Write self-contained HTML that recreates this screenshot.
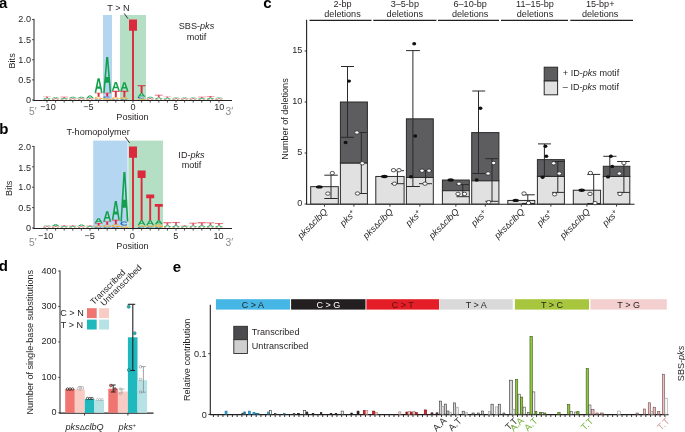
<!DOCTYPE html>
<html><head><meta charset="utf-8"><style>
html,body{margin:0;padding:0;background:#fff;width:685px;height:432px;overflow:hidden;}
svg{display:block;will-change:transform;}
text{font-family:"Liberation Sans", sans-serif;}
</style></head><body>
<svg width="685" height="432" viewBox="0 0 685 432" font-family='"Liberation Sans", sans-serif'>
<defs><path id="LC" d="M0.883,0.179 L0.810,0.108 L0.724,0.053 L0.629,0.017 L0.529,0.001 L0.428,0.005 L0.329,0.030 L0.238,0.074 L0.157,0.136 L0.090,0.213 L0.041,0.302 L0.010,0.399 L0.000,0.500 L0.010,0.601 L0.041,0.698 L0.090,0.787 L0.157,0.864 L0.238,0.926 L0.329,0.970 L0.428,0.995 L0.529,0.999 L0.629,0.983 L0.724,0.947 L0.810,0.892 L0.883,0.821 L0.730,0.693 L0.686,0.735 L0.635,0.768 L0.578,0.790 L0.517,0.799 L0.457,0.797 L0.397,0.782 L0.343,0.755 L0.294,0.718 L0.254,0.672 L0.225,0.619 L0.206,0.561 L0.200,0.500 L0.206,0.439 L0.225,0.381 L0.254,0.328 L0.294,0.282 L0.343,0.245 L0.397,0.218 L0.457,0.203 L0.517,0.201 L0.578,0.210 L0.635,0.232 L0.686,0.265 L0.730,0.307 Z" fill-rule="evenodd"/><path id="LG" d="M0.883,0.179 L0.810,0.108 L0.724,0.053 L0.629,0.017 L0.529,0.001 L0.428,0.005 L0.329,0.030 L0.238,0.074 L0.157,0.136 L0.090,0.213 L0.041,0.302 L0.010,0.399 L0.000,0.500 L0.010,0.601 L0.041,0.698 L0.090,0.787 L0.157,0.864 L0.238,0.926 L0.329,0.970 L0.428,0.995 L0.529,0.999 L0.629,0.983 L0.724,0.947 L0.810,0.892 L0.883,0.821 L0.730,0.693 L0.686,0.735 L0.635,0.768 L0.578,0.790 L0.517,0.799 L0.457,0.797 L0.397,0.782 L0.343,0.755 L0.294,0.718 L0.254,0.672 L0.225,0.619 L0.206,0.561 L0.200,0.500 L0.206,0.439 L0.225,0.381 L0.254,0.328 L0.294,0.282 L0.343,0.245 L0.397,0.218 L0.457,0.203 L0.517,0.201 L0.578,0.210 L0.635,0.232 L0.686,0.265 L0.730,0.307 Z M0.550,0.500 L1.000,0.500 L1.000,0.950 L0.820,0.950 L0.820,0.640 L0.550,0.640 Z" fill-rule="evenodd"/><path id="LA" d="M0.000,1.000 L0.370,0.000 L0.630,0.000 L1.000,1.000 L0.800,1.000 L0.700,0.720 L0.300,0.720 L0.200,1.000 Z M0.370,0.560 L0.500,0.170 L0.630,0.560 Z" fill-rule="evenodd"/><path id="LT30_22" d="M0.000,0.000 L1.000,0.000 L1.000,0.300 L0.610,0.300 L0.610,1.000 L0.390,1.000 L0.390,0.300 L0.000,0.300 Z" fill-rule="evenodd"/><path id="LT35_24" d="M0.000,0.000 L1.000,0.000 L1.000,0.350 L0.620,0.350 L0.620,1.000 L0.380,1.000 L0.380,0.350 L0.000,0.350 Z" fill-rule="evenodd"/><path id="LT15_24" d="M0.000,0.000 L1.000,0.000 L1.000,0.150 L0.620,0.150 L0.620,1.000 L0.380,1.000 L0.380,0.150 L0.000,0.150 Z" fill-rule="evenodd"/><path id="LT14_24" d="M0.000,0.000 L1.000,0.000 L1.000,0.140 L0.620,0.140 L0.620,1.000 L0.380,1.000 L0.380,0.140 L0.000,0.140 Z" fill-rule="evenodd"/><path id="LT17_24" d="M0.000,0.000 L1.000,0.000 L1.000,0.170 L0.620,0.170 L0.620,1.000 L0.380,1.000 L0.380,0.170 L0.000,0.170 Z" fill-rule="evenodd"/></defs>
<rect width="685" height="432" fill="#ffffff"/>
<rect x="103.00" y="15.00" width="9.00" height="85.00" fill="#b4d6f1" stroke="none" stroke-width="1" />
<rect x="120.00" y="15.00" width="26.00" height="85.00" fill="#b5dfc4" stroke="none" stroke-width="1" />
<use href="#LC" transform="translate(43.00,99.52) scale(8.000,0.482)" fill="#2261b8"/>
<use href="#LG" transform="translate(43.00,99.00) scale(8.000,0.523)" fill="#f5a623"/>
<use href="#LA" transform="translate(43.00,97.91) scale(8.000,1.085)" fill="#13a04b"/>
<use href="#LT30_22" transform="translate(43.00,96.38) scale(8.000,1.528)" fill="#e0505f"/>
<use href="#LC" transform="translate(51.60,99.52) scale(8.000,0.482)" fill="#2261b8"/>
<use href="#LG" transform="translate(51.60,99.00) scale(8.000,0.523)" fill="#f5a623"/>
<use href="#LT35_24" transform="translate(51.60,98.19) scale(8.000,0.804)" fill="#e0505f"/>
<use href="#LA" transform="translate(51.60,97.19) scale(8.000,1.005)" fill="#13a04b"/>
<use href="#LC" transform="translate(60.20,99.52) scale(8.000,0.482)" fill="#2261b8"/>
<use href="#LG" transform="translate(60.20,99.00) scale(8.000,0.523)" fill="#f5a623"/>
<use href="#LA" transform="translate(60.20,97.99) scale(8.000,1.005)" fill="#13a04b"/>
<use href="#LT30_22" transform="translate(60.20,96.78) scale(8.000,1.206)" fill="#e0505f"/>
<use href="#LC" transform="translate(68.80,99.52) scale(8.000,0.482)" fill="#2261b8"/>
<use href="#LG" transform="translate(68.80,99.00) scale(8.000,0.523)" fill="#f5a623"/>
<use href="#LT35_24" transform="translate(68.80,98.19) scale(8.000,0.804)" fill="#e0505f"/>
<use href="#LA" transform="translate(68.80,96.78) scale(8.000,1.407)" fill="#13a04b"/>
<use href="#LC" transform="translate(77.40,99.52) scale(8.000,0.482)" fill="#2261b8"/>
<use href="#LG" transform="translate(77.40,99.00) scale(8.000,0.523)" fill="#f5a623"/>
<use href="#LT35_24" transform="translate(77.40,98.19) scale(8.000,0.804)" fill="#e0505f"/>
<use href="#LA" transform="translate(77.40,96.78) scale(8.000,1.407)" fill="#13a04b"/>
<use href="#LC" transform="translate(86.00,99.52) scale(8.000,0.482)" fill="#2261b8"/>
<use href="#LG" transform="translate(86.00,99.00) scale(8.000,0.523)" fill="#f5a623"/>
<use href="#LT35_24" transform="translate(86.00,98.19) scale(8.000,0.804)" fill="#e0505f"/>
<use href="#LA" transform="translate(86.00,95.58) scale(8.000,2.613)" fill="#13a04b"/>
<use href="#LC" transform="translate(146.20,99.52) scale(8.000,0.482)" fill="#2261b8"/>
<use href="#LG" transform="translate(146.20,99.00) scale(8.000,0.523)" fill="#f5a623"/>
<use href="#LT35_24" transform="translate(146.20,98.19) scale(8.000,0.804)" fill="#e0505f"/>
<use href="#LA" transform="translate(146.20,96.78) scale(8.000,1.407)" fill="#13a04b"/>
<use href="#LC" transform="translate(154.80,99.52) scale(8.000,0.482)" fill="#2261b8"/>
<use href="#LG" transform="translate(154.80,99.00) scale(8.000,0.523)" fill="#f5a623"/>
<use href="#LA" transform="translate(154.80,97.43) scale(8.000,1.568)" fill="#13a04b"/>
<use href="#LT30_22" transform="translate(154.80,94.77) scale(8.000,2.653)" fill="#e0505f"/>
<use href="#LC" transform="translate(163.40,99.52) scale(8.000,0.482)" fill="#2261b8"/>
<use href="#LG" transform="translate(163.40,99.00) scale(8.000,0.523)" fill="#f5a623"/>
<use href="#LA" transform="translate(163.40,97.91) scale(8.000,1.085)" fill="#13a04b"/>
<use href="#LT30_22" transform="translate(163.40,96.38) scale(8.000,1.528)" fill="#e0505f"/>
<use href="#LC" transform="translate(172.00,99.52) scale(8.000,0.482)" fill="#2261b8"/>
<use href="#LG" transform="translate(172.00,99.00) scale(8.000,0.523)" fill="#f5a623"/>
<use href="#LT35_24" transform="translate(172.00,98.19) scale(8.000,0.804)" fill="#e0505f"/>
<use href="#LA" transform="translate(172.00,97.39) scale(8.000,0.804)" fill="#13a04b"/>
<use href="#LC" transform="translate(180.60,99.52) scale(8.000,0.482)" fill="#2261b8"/>
<use href="#LG" transform="translate(180.60,99.00) scale(8.000,0.523)" fill="#f5a623"/>
<use href="#LT35_24" transform="translate(180.60,98.19) scale(8.000,0.804)" fill="#e0505f"/>
<use href="#LA" transform="translate(180.60,97.39) scale(8.000,0.804)" fill="#13a04b"/>
<use href="#LC" transform="translate(189.20,99.52) scale(8.000,0.482)" fill="#2261b8"/>
<use href="#LG" transform="translate(189.20,99.00) scale(8.000,0.523)" fill="#f5a623"/>
<use href="#LT35_24" transform="translate(189.20,98.19) scale(8.000,0.804)" fill="#e0505f"/>
<use href="#LA" transform="translate(189.20,97.39) scale(8.000,0.804)" fill="#13a04b"/>
<use href="#LC" transform="translate(197.80,99.52) scale(8.000,0.482)" fill="#2261b8"/>
<use href="#LG" transform="translate(197.80,99.00) scale(8.000,0.523)" fill="#f5a623"/>
<use href="#LA" transform="translate(197.80,97.99) scale(8.000,1.005)" fill="#13a04b"/>
<use href="#LT30_22" transform="translate(197.80,96.78) scale(8.000,1.206)" fill="#e0505f"/>
<use href="#LC" transform="translate(206.40,99.52) scale(8.000,0.482)" fill="#2261b8"/>
<use href="#LG" transform="translate(206.40,99.00) scale(8.000,0.523)" fill="#f5a623"/>
<use href="#LA" transform="translate(206.40,97.79) scale(8.000,1.206)" fill="#13a04b"/>
<use href="#LT30_22" transform="translate(206.40,95.98) scale(8.000,1.809)" fill="#e0505f"/>
<use href="#LC" transform="translate(215.00,99.52) scale(8.000,0.482)" fill="#2261b8"/>
<use href="#LG" transform="translate(215.00,99.00) scale(8.000,0.523)" fill="#f5a623"/>
<use href="#LT35_24" transform="translate(215.00,98.19) scale(8.000,0.804)" fill="#e0505f"/>
<use href="#LA" transform="translate(215.00,97.39) scale(8.000,0.804)" fill="#13a04b"/>
<use href="#LC" transform="translate(94.60,99.20) scale(8.000,0.804)" fill="#2261b8"/>
<use href="#LG" transform="translate(94.60,96.78) scale(8.000,2.412)" fill="#f5a623"/>
<use href="#LT15_24" transform="translate(94.60,92.76) scale(8.000,4.020)" fill="#dc2a3c"/>
<use href="#LA" transform="translate(94.60,78.29) scale(8.000,14.472)" fill="#13a04b"/>
<use href="#LG" transform="translate(103.20,97.99) scale(8.000,2.010)" fill="#f5a623"/>
<use href="#LC" transform="translate(103.20,96.38) scale(8.000,1.608)" fill="#2261b8"/>
<use href="#LT15_24" transform="translate(103.20,92.76) scale(8.000,3.618)" fill="#dc2a3c"/>
<use href="#LA" transform="translate(103.20,56.99) scale(8.000,35.778)" fill="#13a04b"/>
<use href="#LC" transform="translate(111.80,99.20) scale(8.000,0.804)" fill="#2261b8"/>
<use href="#LG" transform="translate(111.80,97.19) scale(8.000,2.010)" fill="#f5a623"/>
<use href="#LT15_24" transform="translate(111.80,90.75) scale(8.000,6.432)" fill="#dc2a3c"/>
<use href="#LA" transform="translate(111.80,81.91) scale(8.000,8.844)" fill="#13a04b"/>
<use href="#LC" transform="translate(120.40,99.20) scale(8.000,0.804)" fill="#2261b8"/>
<use href="#LG" transform="translate(120.40,97.19) scale(8.000,2.010)" fill="#f5a623"/>
<use href="#LT15_24" transform="translate(120.40,90.75) scale(8.000,6.432)" fill="#dc2a3c"/>
<use href="#LA" transform="translate(120.40,82.31) scale(8.000,8.442)" fill="#13a04b"/>
<use href="#LT14_24" transform="translate(129.00,19.60) scale(8.000,80.400)" fill="#dc2a3c"/>
<use href="#LG" transform="translate(137.60,98.39) scale(8.000,1.608)" fill="#f5a623"/>
<use href="#LC" transform="translate(137.60,96.78) scale(8.000,1.608)" fill="#2261b8"/>
<use href="#LA" transform="translate(137.60,93.17) scale(8.000,3.618)" fill="#13a04b"/>
<use href="#LT15_24" transform="translate(137.60,85.13) scale(8.000,8.040)" fill="#dc2a3c"/>
<line x1="34.00" y1="18.70" x2="34.00" y2="100.50" stroke="#4a4a4a" stroke-width="1.2" />
<line x1="33.00" y1="100.50" x2="232.00" y2="100.50" stroke="#231f20" stroke-width="1.0" />
<line x1="32.00" y1="100.00" x2="34.00" y2="100.00" stroke="#3c3c3c" stroke-width="0.9" />
<text x="31.00" y="103.25" font-size="9.1" text-anchor="end" fill="#231f20" font-weight="normal" font-style="normal" >0</text>
<line x1="32.00" y1="79.90" x2="34.00" y2="79.90" stroke="#3c3c3c" stroke-width="0.9" />
<text x="31.00" y="83.40" font-size="9.1" text-anchor="end" fill="#231f20" font-weight="normal" font-style="normal" >0.5</text>
<line x1="32.00" y1="59.80" x2="34.00" y2="59.80" stroke="#3c3c3c" stroke-width="0.9" />
<text x="31.00" y="62.50" font-size="9.1" text-anchor="end" fill="#231f20" font-weight="normal" font-style="normal" >1.0</text>
<line x1="32.00" y1="39.70" x2="34.00" y2="39.70" stroke="#3c3c3c" stroke-width="0.9" />
<text x="31.00" y="42.70" font-size="9.1" text-anchor="end" fill="#231f20" font-weight="normal" font-style="normal" >1.5</text>
<line x1="32.00" y1="19.60" x2="34.00" y2="19.60" stroke="#3c3c3c" stroke-width="0.9" />
<text x="31.00" y="21.70" font-size="9.1" text-anchor="end" fill="#231f20" font-weight="normal" font-style="normal" >2.0</text>
<line x1="47.00" y1="101.00" x2="47.00" y2="102.60" stroke="#231f20" stroke-width="0.8" />
<line x1="55.60" y1="101.00" x2="55.60" y2="102.60" stroke="#231f20" stroke-width="0.8" />
<line x1="64.20" y1="101.00" x2="64.20" y2="102.60" stroke="#231f20" stroke-width="0.8" />
<line x1="72.80" y1="101.00" x2="72.80" y2="102.60" stroke="#231f20" stroke-width="0.8" />
<line x1="81.40" y1="101.00" x2="81.40" y2="102.60" stroke="#231f20" stroke-width="0.8" />
<line x1="90.00" y1="101.00" x2="90.00" y2="102.60" stroke="#231f20" stroke-width="0.8" />
<line x1="98.60" y1="101.00" x2="98.60" y2="102.60" stroke="#231f20" stroke-width="0.8" />
<line x1="107.20" y1="101.00" x2="107.20" y2="102.60" stroke="#231f20" stroke-width="0.8" />
<line x1="115.80" y1="101.00" x2="115.80" y2="102.60" stroke="#231f20" stroke-width="0.8" />
<line x1="124.40" y1="101.00" x2="124.40" y2="102.60" stroke="#231f20" stroke-width="0.8" />
<line x1="133.00" y1="101.00" x2="133.00" y2="102.60" stroke="#231f20" stroke-width="0.8" />
<line x1="141.60" y1="101.00" x2="141.60" y2="102.60" stroke="#231f20" stroke-width="0.8" />
<line x1="150.20" y1="101.00" x2="150.20" y2="102.60" stroke="#231f20" stroke-width="0.8" />
<line x1="158.80" y1="101.00" x2="158.80" y2="102.60" stroke="#231f20" stroke-width="0.8" />
<line x1="167.40" y1="101.00" x2="167.40" y2="102.60" stroke="#231f20" stroke-width="0.8" />
<line x1="176.00" y1="101.00" x2="176.00" y2="102.60" stroke="#231f20" stroke-width="0.8" />
<line x1="184.60" y1="101.00" x2="184.60" y2="102.60" stroke="#231f20" stroke-width="0.8" />
<line x1="193.20" y1="101.00" x2="193.20" y2="102.60" stroke="#231f20" stroke-width="0.8" />
<line x1="201.80" y1="101.00" x2="201.80" y2="102.60" stroke="#231f20" stroke-width="0.8" />
<line x1="210.40" y1="101.00" x2="210.40" y2="102.60" stroke="#231f20" stroke-width="0.8" />
<line x1="219.00" y1="101.00" x2="219.00" y2="102.60" stroke="#231f20" stroke-width="0.8" />
<text x="48.00" y="110.30" font-size="9.1" text-anchor="middle" fill="#231f20" font-weight="normal" font-style="normal" >−10</text>
<text x="88.40" y="110.30" font-size="9.1" text-anchor="middle" fill="#231f20" font-weight="normal" font-style="normal" >−5</text>
<text x="133.00" y="110.30" font-size="9.1" text-anchor="middle" fill="#231f20" font-weight="normal" font-style="normal" >0</text>
<text x="175.90" y="110.30" font-size="9.1" text-anchor="middle" fill="#231f20" font-weight="normal" font-style="normal" >5</text>
<text x="219.30" y="110.30" font-size="9.1" text-anchor="middle" fill="#231f20" font-weight="normal" font-style="normal" >10</text>
<text x="132.50" y="120.00" font-size="9.1" text-anchor="middle" fill="#231f20" font-weight="normal" font-style="normal" >Position</text>
<text x="32.80" y="115.20" font-size="10.2" text-anchor="middle" fill="#8a8a8a" font-weight="normal" font-style="normal" >5′</text>
<text x="229.30" y="115.20" font-size="10.2" text-anchor="middle" fill="#8a8a8a" font-weight="normal" font-style="normal" >3′</text>
<text transform="translate(14.9,60.9) rotate(-90)" font-size="9.1" text-anchor="middle" fill="#231f20">Bits</text>
<text x="118.50" y="11.40" font-size="9.1" text-anchor="middle" fill="#231f20" font-weight="normal" font-style="normal" >T &gt; N</text>
<line x1="124.20" y1="13.40" x2="127.90" y2="18.60" stroke="#231f20" stroke-width="0.9" />
<text x="196.50" y="29.30" font-size="9.1" text-anchor="middle" fill="#231f20" font-weight="normal" font-style="normal" >SBS-<tspan font-style="italic">pks</tspan></text>
<text x="196.50" y="39.80" font-size="9.1" text-anchor="middle" fill="#231f20" font-weight="normal" font-style="normal" >motif</text>
<text x="-1.00" y="7.80" font-size="15" text-anchor="start" fill="#000" font-weight="bold" font-style="normal" >a</text>
<rect x="93.20" y="140.60" width="34.40" height="87.40" fill="#b4d6f1" stroke="none" stroke-width="1" />
<rect x="128.30" y="140.60" width="34.70" height="87.40" fill="#b5dfc4" stroke="none" stroke-width="1" />
<use href="#LC" transform="translate(43.00,227.51) scale(8.000,0.490)" fill="#2261b8"/>
<use href="#LG" transform="translate(43.00,226.98) scale(8.000,0.530)" fill="#f5a623"/>
<use href="#LT35_24" transform="translate(43.00,226.16) scale(8.000,0.816)" fill="#e0505f"/>
<use href="#LA" transform="translate(43.00,225.14) scale(8.000,1.020)" fill="#13a04b"/>
<use href="#LC" transform="translate(51.60,227.51) scale(8.000,0.490)" fill="#2261b8"/>
<use href="#LG" transform="translate(51.60,226.98) scale(8.000,0.530)" fill="#f5a623"/>
<use href="#LT35_24" transform="translate(51.60,226.16) scale(8.000,0.816)" fill="#e0505f"/>
<use href="#LA" transform="translate(51.60,224.33) scale(8.000,1.836)" fill="#13a04b"/>
<use href="#LC" transform="translate(60.20,227.51) scale(8.000,0.490)" fill="#2261b8"/>
<use href="#LG" transform="translate(60.20,226.98) scale(8.000,0.530)" fill="#f5a623"/>
<use href="#LA" transform="translate(60.20,225.96) scale(8.000,1.020)" fill="#13a04b"/>
<use href="#LT30_22" transform="translate(60.20,225.14) scale(8.000,0.816)" fill="#e0505f"/>
<use href="#LC" transform="translate(68.80,227.51) scale(8.000,0.490)" fill="#2261b8"/>
<use href="#LG" transform="translate(68.80,226.98) scale(8.000,0.530)" fill="#f5a623"/>
<use href="#LA" transform="translate(68.80,225.96) scale(8.000,1.020)" fill="#13a04b"/>
<use href="#LT30_22" transform="translate(68.80,225.14) scale(8.000,0.816)" fill="#e0505f"/>
<use href="#LC" transform="translate(77.40,227.51) scale(8.000,0.490)" fill="#2261b8"/>
<use href="#LG" transform="translate(77.40,226.98) scale(8.000,0.530)" fill="#f5a623"/>
<use href="#LT35_24" transform="translate(77.40,226.16) scale(8.000,0.816)" fill="#e0505f"/>
<use href="#LA" transform="translate(77.40,224.53) scale(8.000,1.632)" fill="#13a04b"/>
<use href="#LC" transform="translate(86.00,227.51) scale(8.000,0.490)" fill="#2261b8"/>
<use href="#LG" transform="translate(86.00,226.98) scale(8.000,0.530)" fill="#f5a623"/>
<use href="#LA" transform="translate(86.00,225.96) scale(8.000,1.020)" fill="#13a04b"/>
<use href="#LT30_22" transform="translate(86.00,225.14) scale(8.000,0.816)" fill="#e0505f"/>
<use href="#LC" transform="translate(163.40,227.51) scale(8.000,0.490)" fill="#2261b8"/>
<use href="#LG" transform="translate(163.40,226.98) scale(8.000,0.530)" fill="#f5a623"/>
<use href="#LA" transform="translate(163.40,225.27) scale(8.000,1.714)" fill="#13a04b"/>
<use href="#LT30_22" transform="translate(163.40,222.29) scale(8.000,2.978)" fill="#e0505f"/>
<use href="#LC" transform="translate(172.00,227.51) scale(8.000,0.490)" fill="#2261b8"/>
<use href="#LG" transform="translate(172.00,226.98) scale(8.000,0.530)" fill="#f5a623"/>
<use href="#LA" transform="translate(172.00,225.14) scale(8.000,1.836)" fill="#13a04b"/>
<use href="#LT30_22" transform="translate(172.00,221.88) scale(8.000,3.264)" fill="#e0505f"/>
<use href="#LC" transform="translate(180.60,227.51) scale(8.000,0.490)" fill="#2261b8"/>
<use href="#LG" transform="translate(180.60,226.98) scale(8.000,0.530)" fill="#f5a623"/>
<use href="#LA" transform="translate(180.60,225.96) scale(8.000,1.020)" fill="#13a04b"/>
<use href="#LT30_22" transform="translate(180.60,225.14) scale(8.000,0.816)" fill="#e0505f"/>
<use href="#LC" transform="translate(189.20,227.51) scale(8.000,0.490)" fill="#2261b8"/>
<use href="#LG" transform="translate(189.20,226.98) scale(8.000,0.530)" fill="#f5a623"/>
<use href="#LA" transform="translate(189.20,225.39) scale(8.000,1.591)" fill="#13a04b"/>
<use href="#LT30_22" transform="translate(189.20,222.70) scale(8.000,2.693)" fill="#e0505f"/>
<use href="#LC" transform="translate(197.80,227.51) scale(8.000,0.490)" fill="#2261b8"/>
<use href="#LG" transform="translate(197.80,226.98) scale(8.000,0.530)" fill="#f5a623"/>
<use href="#LA" transform="translate(197.80,225.27) scale(8.000,1.714)" fill="#13a04b"/>
<use href="#LT30_22" transform="translate(197.80,222.29) scale(8.000,2.978)" fill="#e0505f"/>
<use href="#LC" transform="translate(206.40,227.51) scale(8.000,0.490)" fill="#2261b8"/>
<use href="#LG" transform="translate(206.40,226.98) scale(8.000,0.530)" fill="#f5a623"/>
<use href="#LA" transform="translate(206.40,225.33) scale(8.000,1.652)" fill="#13a04b"/>
<use href="#LT30_22" transform="translate(206.40,222.49) scale(8.000,2.836)" fill="#e0505f"/>
<use href="#LC" transform="translate(215.00,227.51) scale(8.000,0.490)" fill="#2261b8"/>
<use href="#LG" transform="translate(215.00,226.98) scale(8.000,0.530)" fill="#f5a623"/>
<use href="#LA" transform="translate(215.00,225.51) scale(8.000,1.469)" fill="#13a04b"/>
<use href="#LT30_22" transform="translate(215.00,223.10) scale(8.000,2.407)" fill="#e0505f"/>
<use href="#LC" transform="translate(94.60,227.18) scale(8.000,0.816)" fill="#2261b8"/>
<use href="#LG" transform="translate(94.60,225.55) scale(8.000,1.632)" fill="#f5a623"/>
<use href="#LT15_24" transform="translate(94.60,223.10) scale(8.000,2.448)" fill="#dc2a3c"/>
<use href="#LA" transform="translate(94.60,218.21) scale(8.000,4.896)" fill="#13a04b"/>
<use href="#LC" transform="translate(103.20,227.18) scale(8.000,0.816)" fill="#2261b8"/>
<use href="#LG" transform="translate(103.20,224.74) scale(8.000,2.448)" fill="#f5a623"/>
<use href="#LT15_24" transform="translate(103.20,221.47) scale(8.000,3.264)" fill="#dc2a3c"/>
<use href="#LA" transform="translate(103.20,211.27) scale(8.000,10.200)" fill="#13a04b"/>
<use href="#LC" transform="translate(111.80,227.18) scale(8.000,0.816)" fill="#2261b8"/>
<use href="#LG" transform="translate(111.80,224.33) scale(8.000,2.856)" fill="#f5a623"/>
<use href="#LT15_24" transform="translate(111.80,219.84) scale(8.000,4.488)" fill="#dc2a3c"/>
<use href="#LA" transform="translate(111.80,201.07) scale(8.000,18.768)" fill="#13a04b"/>
<use href="#LG" transform="translate(120.40,225.55) scale(8.000,2.448)" fill="#f5a623"/>
<use href="#LC" transform="translate(120.40,221.47) scale(8.000,4.080)" fill="#2261b8"/>
<use href="#LA" transform="translate(120.40,172.10) scale(8.000,49.368)" fill="#13a04b"/>
<use href="#LT14_24" transform="translate(129.00,146.40) scale(8.000,81.600)" fill="#dc2a3c"/>
<use href="#LC" transform="translate(137.60,226.78) scale(8.000,1.224)" fill="#2261b8"/>
<use href="#LG" transform="translate(137.60,225.14) scale(8.000,1.632)" fill="#f5a623"/>
<use href="#LA" transform="translate(137.60,220.25) scale(8.000,4.896)" fill="#13a04b"/>
<use href="#LT15_24" transform="translate(137.60,170.47) scale(8.000,49.776)" fill="#dc2a3c"/>
<use href="#LC" transform="translate(146.20,226.78) scale(8.000,1.224)" fill="#2261b8"/>
<use href="#LG" transform="translate(146.20,225.14) scale(8.000,1.632)" fill="#f5a623"/>
<use href="#LA" transform="translate(146.20,220.25) scale(8.000,4.896)" fill="#13a04b"/>
<use href="#LT14_24" transform="translate(146.20,194.54) scale(8.000,25.704)" fill="#dc2a3c"/>
<use href="#LC" transform="translate(154.80,227.18) scale(8.000,0.816)" fill="#2261b8"/>
<use href="#LG" transform="translate(154.80,224.33) scale(8.000,2.856)" fill="#f5a623"/>
<use href="#LA" transform="translate(154.80,220.25) scale(8.000,4.080)" fill="#13a04b"/>
<use href="#LT17_24" transform="translate(154.80,203.93) scale(8.000,16.320)" fill="#dc2a3c"/>
<line x1="34.00" y1="146.10" x2="34.00" y2="228.50" stroke="#4a4a4a" stroke-width="1.2" />
<line x1="33.00" y1="228.50" x2="232.00" y2="228.50" stroke="#231f20" stroke-width="1.0" />
<line x1="32.00" y1="228.00" x2="34.00" y2="228.00" stroke="#3c3c3c" stroke-width="0.9" />
<text x="31.00" y="230.90" font-size="9.1" text-anchor="end" fill="#231f20" font-weight="normal" font-style="normal" >0</text>
<line x1="32.00" y1="207.60" x2="34.00" y2="207.60" stroke="#3c3c3c" stroke-width="0.9" />
<text x="31.00" y="210.70" font-size="9.1" text-anchor="end" fill="#231f20" font-weight="normal" font-style="normal" >0.5</text>
<line x1="32.00" y1="187.20" x2="34.00" y2="187.20" stroke="#3c3c3c" stroke-width="0.9" />
<text x="31.00" y="189.80" font-size="9.1" text-anchor="end" fill="#231f20" font-weight="normal" font-style="normal" >1.0</text>
<line x1="32.00" y1="166.80" x2="34.00" y2="166.80" stroke="#3c3c3c" stroke-width="0.9" />
<text x="31.00" y="170.50" font-size="9.1" text-anchor="end" fill="#231f20" font-weight="normal" font-style="normal" >1.5</text>
<line x1="32.00" y1="146.40" x2="34.00" y2="146.40" stroke="#3c3c3c" stroke-width="0.9" />
<text x="31.00" y="150.00" font-size="9.1" text-anchor="end" fill="#231f20" font-weight="normal" font-style="normal" >2.0</text>
<line x1="47.00" y1="229.00" x2="47.00" y2="230.60" stroke="#231f20" stroke-width="0.8" />
<line x1="55.60" y1="229.00" x2="55.60" y2="230.60" stroke="#231f20" stroke-width="0.8" />
<line x1="64.20" y1="229.00" x2="64.20" y2="230.60" stroke="#231f20" stroke-width="0.8" />
<line x1="72.80" y1="229.00" x2="72.80" y2="230.60" stroke="#231f20" stroke-width="0.8" />
<line x1="81.40" y1="229.00" x2="81.40" y2="230.60" stroke="#231f20" stroke-width="0.8" />
<line x1="90.00" y1="229.00" x2="90.00" y2="230.60" stroke="#231f20" stroke-width="0.8" />
<line x1="98.60" y1="229.00" x2="98.60" y2="230.60" stroke="#231f20" stroke-width="0.8" />
<line x1="107.20" y1="229.00" x2="107.20" y2="230.60" stroke="#231f20" stroke-width="0.8" />
<line x1="115.80" y1="229.00" x2="115.80" y2="230.60" stroke="#231f20" stroke-width="0.8" />
<line x1="124.40" y1="229.00" x2="124.40" y2="230.60" stroke="#231f20" stroke-width="0.8" />
<line x1="133.00" y1="229.00" x2="133.00" y2="230.60" stroke="#231f20" stroke-width="0.8" />
<line x1="141.60" y1="229.00" x2="141.60" y2="230.60" stroke="#231f20" stroke-width="0.8" />
<line x1="150.20" y1="229.00" x2="150.20" y2="230.60" stroke="#231f20" stroke-width="0.8" />
<line x1="158.80" y1="229.00" x2="158.80" y2="230.60" stroke="#231f20" stroke-width="0.8" />
<line x1="167.40" y1="229.00" x2="167.40" y2="230.60" stroke="#231f20" stroke-width="0.8" />
<line x1="176.00" y1="229.00" x2="176.00" y2="230.60" stroke="#231f20" stroke-width="0.8" />
<line x1="184.60" y1="229.00" x2="184.60" y2="230.60" stroke="#231f20" stroke-width="0.8" />
<line x1="193.20" y1="229.00" x2="193.20" y2="230.60" stroke="#231f20" stroke-width="0.8" />
<line x1="201.80" y1="229.00" x2="201.80" y2="230.60" stroke="#231f20" stroke-width="0.8" />
<line x1="210.40" y1="229.00" x2="210.40" y2="230.60" stroke="#231f20" stroke-width="0.8" />
<line x1="219.00" y1="229.00" x2="219.00" y2="230.60" stroke="#231f20" stroke-width="0.8" />
<text x="45.60" y="239.10" font-size="9.1" text-anchor="middle" fill="#231f20" font-weight="normal" font-style="normal" >−10</text>
<text x="89.60" y="239.10" font-size="9.1" text-anchor="middle" fill="#231f20" font-weight="normal" font-style="normal" >−5</text>
<text x="132.30" y="239.10" font-size="9.1" text-anchor="middle" fill="#231f20" font-weight="normal" font-style="normal" >0</text>
<text x="175.90" y="239.10" font-size="9.1" text-anchor="middle" fill="#231f20" font-weight="normal" font-style="normal" >5</text>
<text x="218.60" y="239.10" font-size="9.1" text-anchor="middle" fill="#231f20" font-weight="normal" font-style="normal" >10</text>
<text x="132.50" y="248.50" font-size="9.1" text-anchor="middle" fill="#231f20" font-weight="normal" font-style="normal" >Position</text>
<text x="32.80" y="246.20" font-size="10.2" text-anchor="middle" fill="#8a8a8a" font-weight="normal" font-style="normal" >5′</text>
<text x="229.30" y="246.20" font-size="10.2" text-anchor="middle" fill="#8a8a8a" font-weight="normal" font-style="normal" >3′</text>
<text transform="translate(12.3,188.3) rotate(-90)" font-size="9.1" text-anchor="middle" fill="#231f20">Bits</text>
<text x="129.70" y="135.40" font-size="9.1" text-anchor="end" fill="#231f20" font-weight="normal" font-style="normal" >T-homopolymer</text>
<line x1="125.20" y1="136.90" x2="129.60" y2="142.90" stroke="#231f20" stroke-width="0.9" />
<text x="191.50" y="157.80" font-size="9.1" text-anchor="middle" fill="#231f20" font-weight="normal" font-style="normal" >ID-<tspan font-style="italic">pks</tspan></text>
<text x="191.50" y="168.40" font-size="9.1" text-anchor="middle" fill="#231f20" font-weight="normal" font-style="normal" >motif</text>
<text x="-0.80" y="134.00" font-size="15" text-anchor="start" fill="#000" font-weight="bold" font-style="normal" >b</text>
<text x="263.30" y="7.90" font-size="15" text-anchor="start" fill="#000" font-weight="bold" font-style="normal" >c</text>
<line x1="306.60" y1="19.80" x2="306.60" y2="204.50" stroke="#231f20" stroke-width="1.1" />
<line x1="306.50" y1="204.30" x2="634.50" y2="204.30" stroke="#231f20" stroke-width="1.1" />
<line x1="304.60" y1="204.00" x2="306.60" y2="204.00" stroke="#231f20" stroke-width="0.9" />
<text x="302.30" y="206.30" font-size="9.1" text-anchor="end" fill="#231f20" font-weight="normal" font-style="normal" >0</text>
<line x1="304.60" y1="153.00" x2="306.60" y2="153.00" stroke="#231f20" stroke-width="0.9" />
<text x="302.30" y="155.30" font-size="9.1" text-anchor="end" fill="#231f20" font-weight="normal" font-style="normal" >5</text>
<line x1="304.60" y1="102.00" x2="306.60" y2="102.00" stroke="#231f20" stroke-width="0.9" />
<text x="302.30" y="104.30" font-size="9.1" text-anchor="end" fill="#231f20" font-weight="normal" font-style="normal" >10</text>
<line x1="304.60" y1="51.00" x2="306.60" y2="51.00" stroke="#231f20" stroke-width="0.9" />
<text x="302.30" y="53.30" font-size="9.1" text-anchor="end" fill="#231f20" font-weight="normal" font-style="normal" >15</text>
<text transform="translate(287.5,119.0) rotate(-90)" font-size="9.1" text-anchor="middle" fill="#231f20">Number of deletions</text>
<line x1="309.50" y1="20.40" x2="371.50" y2="20.40" stroke="#231f20" stroke-width="1.1" />
<text x="342.50" y="7.00" font-size="9.1" text-anchor="middle" fill="#231f20" font-weight="normal" font-style="normal" >2-bp</text>
<text x="342.50" y="16.80" font-size="9.1" text-anchor="middle" fill="#231f20" font-weight="normal" font-style="normal" >deletions</text>
<line x1="373.30" y1="20.40" x2="436.40" y2="20.40" stroke="#231f20" stroke-width="1.1" />
<text x="404.80" y="7.00" font-size="9.1" text-anchor="middle" fill="#231f20" font-weight="normal" font-style="normal" >3–5-bp</text>
<text x="404.80" y="16.80" font-size="9.1" text-anchor="middle" fill="#231f20" font-weight="normal" font-style="normal" >deletions</text>
<line x1="438.00" y1="20.40" x2="499.00" y2="20.40" stroke="#231f20" stroke-width="1.1" />
<text x="470.20" y="7.00" font-size="9.1" text-anchor="middle" fill="#231f20" font-weight="normal" font-style="normal" >6–10-bp</text>
<text x="470.20" y="16.80" font-size="9.1" text-anchor="middle" fill="#231f20" font-weight="normal" font-style="normal" >deletions</text>
<line x1="501.00" y1="20.40" x2="568.00" y2="20.40" stroke="#231f20" stroke-width="1.1" />
<text x="535.00" y="7.00" font-size="9.1" text-anchor="middle" fill="#231f20" font-weight="normal" font-style="normal" >11–15-bp</text>
<text x="535.00" y="16.80" font-size="9.1" text-anchor="middle" fill="#231f20" font-weight="normal" font-style="normal" >deletions</text>
<line x1="570.30" y1="20.40" x2="633.00" y2="20.40" stroke="#231f20" stroke-width="1.1" />
<text x="600.20" y="7.00" font-size="9.1" text-anchor="middle" fill="#231f20" font-weight="normal" font-style="normal" >15-bp+</text>
<text x="600.20" y="16.80" font-size="9.1" text-anchor="middle" fill="#231f20" font-weight="normal" font-style="normal" >deletions</text>
<rect x="310.70" y="186.66" width="27.60" height="17.34" fill="#e1e1e1" stroke="#2a2a2a" stroke-width="1.0" />
<line x1="324.50" y1="204.80" x2="324.50" y2="206.60" stroke="#231f20" stroke-width="0.9" />
<rect x="340.40" y="102.00" width="27.00" height="61.20" fill="#5d5d60" stroke="#2a2a2a" stroke-width="1.0" />
<rect x="340.40" y="163.20" width="27.00" height="40.80" fill="#e1e1e1" stroke="#2a2a2a" stroke-width="1.0" />
<line x1="353.90" y1="204.80" x2="353.90" y2="206.60" stroke="#231f20" stroke-width="0.9" />
<rect x="375.80" y="176.46" width="28.30" height="27.54" fill="#e1e1e1" stroke="#2a2a2a" stroke-width="1.0" />
<line x1="389.95" y1="204.80" x2="389.95" y2="206.60" stroke="#231f20" stroke-width="0.9" />
<rect x="406.40" y="118.83" width="26.90" height="58.65" fill="#5d5d60" stroke="#2a2a2a" stroke-width="1.0" />
<rect x="406.40" y="177.48" width="26.90" height="26.52" fill="#e1e1e1" stroke="#2a2a2a" stroke-width="1.0" />
<line x1="419.85" y1="204.80" x2="419.85" y2="206.60" stroke="#231f20" stroke-width="0.9" />
<rect x="442.40" y="180.03" width="26.90" height="10.71" fill="#5d5d60" stroke="#2a2a2a" stroke-width="1.0" />
<rect x="442.40" y="190.74" width="26.90" height="13.26" fill="#e1e1e1" stroke="#2a2a2a" stroke-width="1.0" />
<line x1="455.85" y1="204.80" x2="455.85" y2="206.60" stroke="#231f20" stroke-width="0.9" />
<rect x="471.70" y="132.60" width="27.20" height="48.25" fill="#5d5d60" stroke="#2a2a2a" stroke-width="1.0" />
<rect x="471.70" y="180.85" width="27.20" height="23.15" fill="#e1e1e1" stroke="#2a2a2a" stroke-width="1.0" />
<line x1="485.30" y1="204.80" x2="485.30" y2="206.60" stroke="#231f20" stroke-width="0.9" />
<rect x="507.80" y="200.43" width="27.00" height="3.57" fill="#e1e1e1" stroke="#2a2a2a" stroke-width="1.0" />
<line x1="521.30" y1="204.80" x2="521.30" y2="206.60" stroke="#231f20" stroke-width="0.9" />
<rect x="537.40" y="159.63" width="27.00" height="16.83" fill="#5d5d60" stroke="#2a2a2a" stroke-width="1.0" />
<rect x="537.40" y="176.46" width="27.00" height="27.54" fill="#e1e1e1" stroke="#2a2a2a" stroke-width="1.0" />
<line x1="550.90" y1="204.80" x2="550.90" y2="206.60" stroke="#231f20" stroke-width="0.9" />
<rect x="573.30" y="190.23" width="27.30" height="13.77" fill="#e1e1e1" stroke="#2a2a2a" stroke-width="1.0" />
<line x1="586.95" y1="204.80" x2="586.95" y2="206.60" stroke="#231f20" stroke-width="0.9" />
<rect x="603.30" y="166.26" width="26.50" height="10.20" fill="#5d5d60" stroke="#2a2a2a" stroke-width="1.0" />
<rect x="603.30" y="176.46" width="26.50" height="27.54" fill="#e1e1e1" stroke="#2a2a2a" stroke-width="1.0" />
<line x1="616.55" y1="204.80" x2="616.55" y2="206.60" stroke="#231f20" stroke-width="0.9" />
<line x1="331.00" y1="175.20" x2="331.00" y2="198.50" stroke="#2a2a2a" stroke-width="1.0" />
<line x1="324.30" y1="175.20" x2="337.80" y2="175.20" stroke="#2a2a2a" stroke-width="1.0" />
<line x1="324.30" y1="198.50" x2="337.80" y2="198.50" stroke="#2a2a2a" stroke-width="1.0" />
<line x1="347.50" y1="66.50" x2="347.50" y2="137.30" stroke="#2a2a2a" stroke-width="1.0" />
<line x1="341.00" y1="66.50" x2="354.00" y2="66.50" stroke="#2a2a2a" stroke-width="1.0" />
<line x1="341.00" y1="137.30" x2="354.00" y2="137.30" stroke="#2a2a2a" stroke-width="1.0" />
<line x1="361.30" y1="132.50" x2="361.30" y2="193.50" stroke="#2a2a2a" stroke-width="1.0" />
<line x1="355.40" y1="132.50" x2="366.90" y2="132.50" stroke="#2a2a2a" stroke-width="1.0" />
<line x1="355.40" y1="193.50" x2="366.90" y2="193.50" stroke="#2a2a2a" stroke-width="1.0" />
<line x1="397.40" y1="170.70" x2="397.40" y2="183.70" stroke="#2a2a2a" stroke-width="1.0" />
<line x1="391.00" y1="170.70" x2="404.00" y2="170.70" stroke="#2a2a2a" stroke-width="1.0" />
<line x1="391.00" y1="183.70" x2="404.00" y2="183.70" stroke="#2a2a2a" stroke-width="1.0" />
<line x1="412.90" y1="50.60" x2="412.90" y2="186.50" stroke="#2a2a2a" stroke-width="1.0" />
<line x1="406.00" y1="50.60" x2="419.90" y2="50.60" stroke="#2a2a2a" stroke-width="1.0" />
<line x1="406.00" y1="186.50" x2="419.90" y2="186.50" stroke="#2a2a2a" stroke-width="1.0" />
<line x1="425.60" y1="170.70" x2="425.60" y2="183.70" stroke="#2a2a2a" stroke-width="1.0" />
<line x1="419.00" y1="170.70" x2="432.00" y2="170.70" stroke="#2a2a2a" stroke-width="1.0" />
<line x1="419.00" y1="183.70" x2="432.00" y2="183.70" stroke="#2a2a2a" stroke-width="1.0" />
<line x1="462.80" y1="184.60" x2="462.80" y2="196.70" stroke="#2a2a2a" stroke-width="1.0" />
<line x1="456.50" y1="184.60" x2="469.00" y2="184.60" stroke="#2a2a2a" stroke-width="1.0" />
<line x1="456.50" y1="196.70" x2="469.00" y2="196.70" stroke="#2a2a2a" stroke-width="1.0" />
<line x1="478.50" y1="91.00" x2="478.50" y2="173.50" stroke="#2a2a2a" stroke-width="1.0" />
<line x1="472.30" y1="91.00" x2="485.20" y2="91.00" stroke="#2a2a2a" stroke-width="1.0" />
<line x1="472.30" y1="173.50" x2="485.20" y2="173.50" stroke="#2a2a2a" stroke-width="1.0" />
<line x1="492.00" y1="158.70" x2="492.00" y2="201.30" stroke="#2a2a2a" stroke-width="1.0" />
<line x1="485.40" y1="158.70" x2="498.30" y2="158.70" stroke="#2a2a2a" stroke-width="1.0" />
<line x1="485.40" y1="201.30" x2="498.30" y2="201.30" stroke="#2a2a2a" stroke-width="1.0" />
<line x1="527.80" y1="194.80" x2="527.80" y2="203.50" stroke="#2a2a2a" stroke-width="1.0" />
<line x1="522.00" y1="194.80" x2="534.80" y2="194.80" stroke="#2a2a2a" stroke-width="1.0" />
<line x1="522.00" y1="203.50" x2="534.80" y2="203.50" stroke="#2a2a2a" stroke-width="1.0" />
<line x1="544.40" y1="143.90" x2="544.40" y2="176.30" stroke="#2a2a2a" stroke-width="1.0" />
<line x1="538.00" y1="143.90" x2="551.00" y2="143.90" stroke="#2a2a2a" stroke-width="1.0" />
<line x1="538.00" y1="176.30" x2="551.00" y2="176.30" stroke="#2a2a2a" stroke-width="1.0" />
<line x1="557.80" y1="161.50" x2="557.80" y2="192.40" stroke="#2a2a2a" stroke-width="1.0" />
<line x1="552.20" y1="161.50" x2="563.90" y2="161.50" stroke="#2a2a2a" stroke-width="1.0" />
<line x1="552.20" y1="192.40" x2="563.90" y2="192.40" stroke="#2a2a2a" stroke-width="1.0" />
<line x1="593.70" y1="174.40" x2="593.70" y2="203.50" stroke="#2a2a2a" stroke-width="1.0" />
<line x1="587.20" y1="174.40" x2="600.20" y2="174.40" stroke="#2a2a2a" stroke-width="1.0" />
<line x1="587.20" y1="203.50" x2="600.20" y2="203.50" stroke="#2a2a2a" stroke-width="1.0" />
<line x1="609.80" y1="156.30" x2="609.80" y2="176.50" stroke="#2a2a2a" stroke-width="1.0" />
<line x1="603.30" y1="156.30" x2="616.50" y2="156.30" stroke="#2a2a2a" stroke-width="1.0" />
<line x1="603.30" y1="176.50" x2="616.50" y2="176.50" stroke="#2a2a2a" stroke-width="1.0" />
<line x1="623.90" y1="161.50" x2="623.90" y2="192.40" stroke="#2a2a2a" stroke-width="1.0" />
<line x1="617.20" y1="161.50" x2="629.80" y2="161.50" stroke="#2a2a2a" stroke-width="1.0" />
<line x1="617.20" y1="192.40" x2="629.80" y2="192.40" stroke="#2a2a2a" stroke-width="1.0" />
<ellipse cx="319.3" cy="186.9" rx="3.4" ry="1.7" fill="#111"/>
<ellipse cx="349" cy="81.1" rx="2" ry="1.7" fill="#111"/>
<ellipse cx="345.6" cy="142.5" rx="2" ry="1.7" fill="#111"/>
<ellipse cx="384.4" cy="176.5" rx="3.4" ry="1.7" fill="#111"/>
<ellipse cx="414.2" cy="43.8" rx="2" ry="1.7" fill="#111"/>
<ellipse cx="415.2" cy="136" rx="2" ry="1.7" fill="#111"/>
<ellipse cx="411" cy="176.8" rx="2" ry="1.7" fill="#111"/>
<ellipse cx="450.7" cy="180" rx="3.2" ry="1.7" fill="#111"/>
<ellipse cx="480.4" cy="108.2" rx="2" ry="1.7" fill="#111"/>
<ellipse cx="476.7" cy="180" rx="2" ry="1.7" fill="#111"/>
<ellipse cx="515.7" cy="200.4" rx="3.2" ry="1.7" fill="#111"/>
<ellipse cx="545.4" cy="146.3" rx="2" ry="1.7" fill="#111"/>
<ellipse cx="546.3" cy="156.3" rx="2" ry="1.7" fill="#111"/>
<ellipse cx="542.6" cy="177.2" rx="2" ry="1.7" fill="#111"/>
<ellipse cx="581.7" cy="190.2" rx="3.2" ry="1.7" fill="#111"/>
<ellipse cx="610.9" cy="156.3" rx="2" ry="1.7" fill="#111"/>
<ellipse cx="612.2" cy="166.5" rx="2" ry="1.7" fill="#111"/>
<ellipse cx="608" cy="176.9" rx="2" ry="1.7" fill="#111"/>
<ellipse cx="332.3" cy="173.1" rx="2.2" ry="1.7" fill="#fff" stroke="#2a2a2a" stroke-width="0.8"/>
<ellipse cx="327.9" cy="193.6" rx="2.2" ry="1.7" fill="#fff" stroke="#2a2a2a" stroke-width="0.8"/>
<ellipse cx="356.9" cy="132.5" rx="2.2" ry="1.7" fill="#fff" stroke="#2a2a2a" stroke-width="0.8"/>
<ellipse cx="362.3" cy="163.3" rx="2.2" ry="1.7" fill="#fff" stroke="#2a2a2a" stroke-width="0.8"/>
<ellipse cx="357.5" cy="193.5" rx="2.2" ry="1.7" fill="#fff" stroke="#2a2a2a" stroke-width="0.8"/>
<ellipse cx="393.5" cy="170.2" rx="2.2" ry="1.7" fill="#fff" stroke="#2a2a2a" stroke-width="0.8"/>
<ellipse cx="399" cy="170.2" rx="2.2" ry="1.7" fill="#fff" stroke="#2a2a2a" stroke-width="0.8"/>
<ellipse cx="394.5" cy="183.7" rx="2.2" ry="1.7" fill="#fff" stroke="#2a2a2a" stroke-width="0.8"/>
<ellipse cx="422" cy="170.7" rx="2.2" ry="1.7" fill="#fff" stroke="#2a2a2a" stroke-width="0.8"/>
<ellipse cx="429" cy="170.7" rx="2.2" ry="1.7" fill="#fff" stroke="#2a2a2a" stroke-width="0.8"/>
<ellipse cx="425" cy="183.7" rx="2.2" ry="1.7" fill="#fff" stroke="#2a2a2a" stroke-width="0.8"/>
<ellipse cx="459" cy="183.7" rx="2.2" ry="1.7" fill="#fff" stroke="#2a2a2a" stroke-width="0.8"/>
<ellipse cx="458" cy="193.9" rx="2.2" ry="1.7" fill="#fff" stroke="#2a2a2a" stroke-width="0.8"/>
<ellipse cx="464.6" cy="193.9" rx="2.2" ry="1.7" fill="#fff" stroke="#2a2a2a" stroke-width="0.8"/>
<ellipse cx="493.7" cy="163" rx="2.2" ry="1.7" fill="#fff" stroke="#2a2a2a" stroke-width="0.8"/>
<ellipse cx="488.1" cy="173.5" rx="2.2" ry="1.7" fill="#fff" stroke="#2a2a2a" stroke-width="0.8"/>
<ellipse cx="488.7" cy="202.2" rx="2.2" ry="1.7" fill="#fff" stroke="#2a2a2a" stroke-width="0.8"/>
<ellipse cx="524" cy="193.5" rx="2.2" ry="1.7" fill="#fff" stroke="#2a2a2a" stroke-width="0.8"/>
<ellipse cx="528.5" cy="203" rx="2.2" ry="1.7" fill="#fff" stroke="#2a2a2a" stroke-width="0.8"/>
<ellipse cx="553.7" cy="163.3" rx="2.2" ry="1.7" fill="#fff" stroke="#2a2a2a" stroke-width="0.8"/>
<ellipse cx="559.3" cy="173.5" rx="2.2" ry="1.7" fill="#fff" stroke="#2a2a2a" stroke-width="0.8"/>
<ellipse cx="554.6" cy="194.3" rx="2.2" ry="1.7" fill="#fff" stroke="#2a2a2a" stroke-width="0.8"/>
<ellipse cx="590.4" cy="173" rx="2.2" ry="1.7" fill="#fff" stroke="#2a2a2a" stroke-width="0.8"/>
<ellipse cx="590" cy="193.9" rx="2.2" ry="1.7" fill="#fff" stroke="#2a2a2a" stroke-width="0.8"/>
<ellipse cx="595" cy="203.1" rx="2.2" ry="1.7" fill="#fff" stroke="#2a2a2a" stroke-width="0.8"/>
<ellipse cx="623.9" cy="163" rx="2.2" ry="1.7" fill="#fff" stroke="#2a2a2a" stroke-width="0.8"/>
<ellipse cx="619.3" cy="173.5" rx="2.2" ry="1.7" fill="#fff" stroke="#2a2a2a" stroke-width="0.8"/>
<ellipse cx="620" cy="193.9" rx="2.2" ry="1.7" fill="#fff" stroke="#2a2a2a" stroke-width="0.8"/>
<rect x="544.20" y="67.20" width="13.40" height="13.80" fill="#5d5d60" stroke="#2a2a2a" stroke-width="1.0" />
<rect x="544.20" y="81.00" width="13.40" height="13.80" fill="#e1e1e1" stroke="#2a2a2a" stroke-width="1.0" />
<text x="562.80" y="76.40" font-size="9.1" text-anchor="start" fill="#231f20" font-weight="normal" font-style="normal" >+ ID-<tspan font-style="italic">pks</tspan> motif</text>
<text x="562.80" y="90.00" font-size="9.1" text-anchor="start" fill="#231f20" font-weight="normal" font-style="normal" >– ID-<tspan font-style="italic">pks</tspan> motif</text>
<text transform="translate(328.10,212.30) rotate(-45)" font-size="9.1" text-anchor="end" fill="#231f20"><tspan font-style="italic">pks</tspan><tspan font-size="7.8">Δ</tspan><tspan font-style="italic">clbQ</tspan></text>
<text transform="translate(356.10,214.00) rotate(-45)" font-size="9.1" text-anchor="end" fill="#231f20"><tspan font-style="italic">pks</tspan><tspan font-size="6.5" dy="-3.0">+</tspan></text>
<text transform="translate(393.55,212.30) rotate(-45)" font-size="9.1" text-anchor="end" fill="#231f20"><tspan font-style="italic">pks</tspan><tspan font-size="7.8">Δ</tspan><tspan font-style="italic">clbQ</tspan></text>
<text transform="translate(422.05,214.00) rotate(-45)" font-size="9.1" text-anchor="end" fill="#231f20"><tspan font-style="italic">pks</tspan><tspan font-size="6.5" dy="-3.0">+</tspan></text>
<text transform="translate(459.45,212.30) rotate(-45)" font-size="9.1" text-anchor="end" fill="#231f20"><tspan font-style="italic">pks</tspan><tspan font-size="7.8">Δ</tspan><tspan font-style="italic">clbQ</tspan></text>
<text transform="translate(487.50,214.00) rotate(-45)" font-size="9.1" text-anchor="end" fill="#231f20"><tspan font-style="italic">pks</tspan><tspan font-size="6.5" dy="-3.0">+</tspan></text>
<text transform="translate(524.90,212.30) rotate(-45)" font-size="9.1" text-anchor="end" fill="#231f20"><tspan font-style="italic">pks</tspan><tspan font-size="7.8">Δ</tspan><tspan font-style="italic">clbQ</tspan></text>
<text transform="translate(553.10,214.00) rotate(-45)" font-size="9.1" text-anchor="end" fill="#231f20"><tspan font-style="italic">pks</tspan><tspan font-size="6.5" dy="-3.0">+</tspan></text>
<text transform="translate(590.55,212.30) rotate(-45)" font-size="9.1" text-anchor="end" fill="#231f20"><tspan font-style="italic">pks</tspan><tspan font-size="7.8">Δ</tspan><tspan font-style="italic">clbQ</tspan></text>
<text transform="translate(618.75,214.00) rotate(-45)" font-size="9.1" text-anchor="end" fill="#231f20"><tspan font-style="italic">pks</tspan><tspan font-size="6.5" dy="-3.0">+</tspan></text>
<text x="-1.20" y="271.30" font-size="15" text-anchor="start" fill="#000" font-weight="bold" font-style="normal" >d</text>
<line x1="60.00" y1="270.40" x2="60.00" y2="413.50" stroke="#3c3c3c" stroke-width="1.1" />
<line x1="59.50" y1="413.20" x2="153.50" y2="413.20" stroke="#231f20" stroke-width="1.2" />
<line x1="58.20" y1="412.80" x2="60.00" y2="412.80" stroke="#3c3c3c" stroke-width="0.9" />
<text x="56.60" y="415.30" font-size="9.1" text-anchor="end" fill="#231f20" font-weight="normal" font-style="normal" >0</text>
<line x1="58.20" y1="377.35" x2="60.00" y2="377.35" stroke="#3c3c3c" stroke-width="0.9" />
<text x="56.60" y="379.85" font-size="9.1" text-anchor="end" fill="#231f20" font-weight="normal" font-style="normal" >100</text>
<line x1="58.20" y1="341.90" x2="60.00" y2="341.90" stroke="#3c3c3c" stroke-width="0.9" />
<text x="56.60" y="344.40" font-size="9.1" text-anchor="end" fill="#231f20" font-weight="normal" font-style="normal" >200</text>
<line x1="58.20" y1="306.45" x2="60.00" y2="306.45" stroke="#3c3c3c" stroke-width="0.9" />
<text x="56.60" y="308.95" font-size="9.1" text-anchor="end" fill="#231f20" font-weight="normal" font-style="normal" >300</text>
<line x1="58.20" y1="271.00" x2="60.00" y2="271.00" stroke="#3c3c3c" stroke-width="0.9" />
<text x="56.60" y="273.50" font-size="9.1" text-anchor="end" fill="#231f20" font-weight="normal" font-style="normal" >400</text>
<text transform="translate(33.2,342.2) rotate(-90)" font-size="9.1" text-anchor="middle" fill="#231f20">Number of single-base substitutions</text>
<rect x="65.20" y="389.05" width="9.60" height="23.75" fill="#f07470" stroke="none" stroke-width="1" />
<rect x="74.80" y="389.40" width="10.00" height="23.40" fill="#f8cbc4" stroke="none" stroke-width="1" />
<rect x="84.80" y="398.97" width="9.60" height="13.83" fill="#1fb9bd" stroke="none" stroke-width="1" />
<rect x="94.40" y="400.04" width="9.60" height="12.76" fill="#b6e2e5" stroke="none" stroke-width="1" />
<rect x="108.30" y="388.69" width="9.60" height="24.11" fill="#f07470" stroke="none" stroke-width="1" />
<rect x="117.90" y="391.53" width="10.00" height="21.27" fill="#f8cbc4" stroke="none" stroke-width="1" />
<rect x="127.90" y="337.29" width="9.60" height="75.51" fill="#1fb9bd" stroke="none" stroke-width="1" />
<rect x="137.50" y="380.19" width="9.60" height="32.61" fill="#b6e2e5" stroke="none" stroke-width="1" />
<line x1="84.60" y1="413.50" x2="84.60" y2="415.50" stroke="#231f20" stroke-width="0.9" />
<line x1="127.90" y1="413.50" x2="127.90" y2="415.50" stroke="#231f20" stroke-width="0.9" />
<line x1="132.80" y1="304.30" x2="132.80" y2="370.50" stroke="#222" stroke-width="1.1" />
<line x1="127.80" y1="304.30" x2="135.20" y2="304.30" stroke="#222" stroke-width="1.1" />
<line x1="128.50" y1="370.50" x2="135.00" y2="370.50" stroke="#222" stroke-width="1.1" />
<circle cx="128.7" cy="306.7" r="1.5" fill="#1fb9bd" stroke="#1c6f72" stroke-width="0.6"/>
<circle cx="134.6" cy="333.2" r="1.5" fill="#1fb9bd" stroke="#1c6f72" stroke-width="0.6"/>
<circle cx="128.9" cy="370.0" r="1.5" fill="#1fb9bd" stroke="#1c6f72" stroke-width="0.6"/>
<line x1="143.40" y1="366.60" x2="143.40" y2="392.20" stroke="#8a8a8a" stroke-width="0.8" />
<line x1="141.00" y1="366.60" x2="145.80" y2="366.60" stroke="#8a8a8a" stroke-width="0.8" />
<line x1="141.00" y1="392.20" x2="145.80" y2="392.20" stroke="#8a8a8a" stroke-width="0.8" />
<circle cx="140.5" cy="366.8" r="1.3" fill="none" stroke="#8a8a8a" stroke-width="0.6"/>
<circle cx="140.5" cy="379.5" r="1.3" fill="none" stroke="#8a8a8a" stroke-width="0.6"/>
<circle cx="140.5" cy="392.0" r="1.3" fill="none" stroke="#8a8a8a" stroke-width="0.6"/>
<line x1="113.20" y1="385.00" x2="113.20" y2="392.00" stroke="#222" stroke-width="1.0" />
<line x1="110.80" y1="385.00" x2="115.60" y2="385.00" stroke="#222" stroke-width="1.0" />
<line x1="110.80" y1="392.00" x2="115.60" y2="392.00" stroke="#222" stroke-width="1.0" />
<circle cx="110.8" cy="385.5" r="1.3" fill="#f07470" stroke="#222" stroke-width="0.6"/>
<circle cx="115.0" cy="389.0" r="1.3" fill="#f07470" stroke="#222" stroke-width="0.6"/>
<circle cx="67.5" cy="389.1" r="1.3" fill="none" stroke="#222" stroke-width="0.7"/>
<circle cx="70.0" cy="389.1" r="1.3" fill="none" stroke="#222" stroke-width="0.7"/>
<circle cx="72.5" cy="389.1" r="1.3" fill="none" stroke="#222" stroke-width="0.7"/>
<line x1="80.20" y1="386.50" x2="80.20" y2="391.00" stroke="#999" stroke-width="0.7" />
<line x1="78.20" y1="386.50" x2="82.20" y2="386.50" stroke="#999" stroke-width="0.7" />
<circle cx="78.3" cy="388.5" r="1.2" fill="none" stroke="#999" stroke-width="0.6"/>
<circle cx="82.5" cy="388.0" r="1.2" fill="none" stroke="#999" stroke-width="0.6"/>
<circle cx="87.5" cy="398.5" r="1.2" fill="none" stroke="#222" stroke-width="0.7"/>
<circle cx="89.8" cy="398.5" r="1.2" fill="none" stroke="#222" stroke-width="0.7"/>
<circle cx="92.0" cy="398.5" r="1.2" fill="none" stroke="#222" stroke-width="0.7"/>
<circle cx="97.5" cy="399.6" r="1.1" fill="none" stroke="#999" stroke-width="0.5"/>
<circle cx="99.8" cy="399.6" r="1.1" fill="none" stroke="#999" stroke-width="0.5"/>
<circle cx="102.0" cy="399.6" r="1.1" fill="none" stroke="#999" stroke-width="0.5"/>
<line x1="122.00" y1="389.00" x2="122.00" y2="394.00" stroke="#999" stroke-width="0.7" />
<line x1="120.00" y1="389.00" x2="124.50" y2="389.00" stroke="#999" stroke-width="0.7" />
<circle cx="120.3" cy="389.0" r="1.2" fill="none" stroke="#999" stroke-width="0.6"/>
<circle cx="120.3" cy="393.5" r="1.2" fill="none" stroke="#999" stroke-width="0.6"/>
<text x="72.00" y="316.40" font-size="9.1" text-anchor="middle" fill="#231f20" font-weight="normal" font-style="normal" >C &gt; N</text>
<text x="72.00" y="327.60" font-size="9.1" text-anchor="middle" fill="#231f20" font-weight="normal" font-style="normal" >T &gt; N</text>
<rect x="87.00" y="308.20" width="9.70" height="9.90" fill="#f07470" stroke="none" stroke-width="1" />
<rect x="99.10" y="308.20" width="9.90" height="9.90" fill="#f8cbc4" stroke="none" stroke-width="1" />
<rect x="87.00" y="319.60" width="9.70" height="9.90" fill="#1fb9bd" stroke="none" stroke-width="1" />
<rect x="99.10" y="319.60" width="9.90" height="9.90" fill="#b6e2e5" stroke="none" stroke-width="1" />
<text transform="translate(93.8,305.2) rotate(-45)" font-size="8.7" fill="#231f20">Transcribed</text>
<text transform="translate(104.0,306.6) rotate(-45)" font-size="8.7" fill="#231f20">Untranscribed</text>
<text x="84.60" y="430.00" font-size="9.1" text-anchor="middle" fill="#231f20" font-weight="normal" font-style="normal" ><tspan font-style="italic">pks</tspan><tspan font-size="7.8">Δ</tspan><tspan font-style="italic">clbQ</tspan></text>
<text x="127.30" y="430.00" font-size="9.1" text-anchor="middle" fill="#231f20" font-weight="normal" font-style="normal" ><tspan font-style="italic">pks</tspan><tspan font-size="5.5" dy="-3.2">+</tspan></text>
<text x="172.80" y="271.90" font-size="15" text-anchor="start" fill="#000" font-weight="bold" font-style="normal" >e</text>
<rect x="215.90" y="299.20" width="74.10" height="10.40" fill="#45b6e5" stroke="none" stroke-width="1" />
<text x="252.95" y="307.60" font-size="9.0" text-anchor="middle" fill="#231f20" font-weight="normal" font-style="normal" >C &gt; A</text>
<rect x="291.10" y="299.20" width="74.40" height="10.40" fill="#231f20" stroke="none" stroke-width="1" />
<text x="328.30" y="307.60" font-size="9.0" text-anchor="middle" fill="#ffffff" font-weight="normal" font-style="normal" >C &gt; G</text>
<rect x="366.40" y="299.20" width="72.70" height="10.40" fill="#e31e26" stroke="none" stroke-width="1" />
<text x="402.75" y="307.60" font-size="9.0" text-anchor="middle" fill="#5a0f12" font-weight="normal" font-style="normal" >C &gt; T</text>
<rect x="439.70" y="299.20" width="73.00" height="10.40" fill="#d9d9d9" stroke="none" stroke-width="1" />
<text x="476.20" y="307.60" font-size="9.0" text-anchor="middle" fill="#231f20" font-weight="normal" font-style="normal" >T &gt; A</text>
<rect x="514.90" y="299.20" width="74.10" height="10.40" fill="#a8c63d" stroke="none" stroke-width="1" />
<text x="551.95" y="307.60" font-size="9.0" text-anchor="middle" fill="#231f20" font-weight="normal" font-style="normal" >T &gt; C</text>
<rect x="590.50" y="299.20" width="76.30" height="10.40" fill="#f3cfcf" stroke="none" stroke-width="1" />
<text x="628.65" y="307.60" font-size="9.0" text-anchor="middle" fill="#231f20" font-weight="normal" font-style="normal" >T &gt; G</text>
<line x1="210.30" y1="304.80" x2="210.30" y2="414.80" stroke="#231f20" stroke-width="1.1" />
<line x1="209.80" y1="414.60" x2="668.50" y2="414.60" stroke="#231f20" stroke-width="1.2" />
<line x1="213.40" y1="415.00" x2="213.40" y2="417.00" stroke="#231f20" stroke-width="0.9" />
<line x1="218.15" y1="415.00" x2="218.15" y2="417.00" stroke="#231f20" stroke-width="0.9" />
<line x1="222.90" y1="415.00" x2="222.90" y2="417.00" stroke="#231f20" stroke-width="0.9" />
<line x1="227.66" y1="415.00" x2="227.66" y2="417.00" stroke="#231f20" stroke-width="0.9" />
<line x1="232.41" y1="415.00" x2="232.41" y2="417.00" stroke="#231f20" stroke-width="0.9" />
<line x1="237.16" y1="415.00" x2="237.16" y2="417.00" stroke="#231f20" stroke-width="0.9" />
<line x1="241.91" y1="415.00" x2="241.91" y2="417.00" stroke="#231f20" stroke-width="0.9" />
<line x1="246.66" y1="415.00" x2="246.66" y2="417.00" stroke="#231f20" stroke-width="0.9" />
<line x1="251.42" y1="415.00" x2="251.42" y2="417.00" stroke="#231f20" stroke-width="0.9" />
<line x1="256.17" y1="415.00" x2="256.17" y2="417.00" stroke="#231f20" stroke-width="0.9" />
<line x1="260.92" y1="415.00" x2="260.92" y2="417.00" stroke="#231f20" stroke-width="0.9" />
<line x1="265.67" y1="415.00" x2="265.67" y2="417.00" stroke="#231f20" stroke-width="0.9" />
<line x1="270.42" y1="415.00" x2="270.42" y2="417.00" stroke="#231f20" stroke-width="0.9" />
<line x1="275.18" y1="415.00" x2="275.18" y2="417.00" stroke="#231f20" stroke-width="0.9" />
<line x1="279.93" y1="415.00" x2="279.93" y2="417.00" stroke="#231f20" stroke-width="0.9" />
<line x1="284.68" y1="415.00" x2="284.68" y2="417.00" stroke="#231f20" stroke-width="0.9" />
<line x1="289.43" y1="415.00" x2="289.43" y2="417.00" stroke="#231f20" stroke-width="0.9" />
<line x1="294.18" y1="415.00" x2="294.18" y2="417.00" stroke="#231f20" stroke-width="0.9" />
<line x1="298.94" y1="415.00" x2="298.94" y2="417.00" stroke="#231f20" stroke-width="0.9" />
<line x1="303.69" y1="415.00" x2="303.69" y2="417.00" stroke="#231f20" stroke-width="0.9" />
<line x1="308.44" y1="415.00" x2="308.44" y2="417.00" stroke="#231f20" stroke-width="0.9" />
<line x1="313.19" y1="415.00" x2="313.19" y2="417.00" stroke="#231f20" stroke-width="0.9" />
<line x1="317.94" y1="415.00" x2="317.94" y2="417.00" stroke="#231f20" stroke-width="0.9" />
<line x1="322.70" y1="415.00" x2="322.70" y2="417.00" stroke="#231f20" stroke-width="0.9" />
<line x1="327.45" y1="415.00" x2="327.45" y2="417.00" stroke="#231f20" stroke-width="0.9" />
<line x1="332.20" y1="415.00" x2="332.20" y2="417.00" stroke="#231f20" stroke-width="0.9" />
<line x1="336.95" y1="415.00" x2="336.95" y2="417.00" stroke="#231f20" stroke-width="0.9" />
<line x1="341.70" y1="415.00" x2="341.70" y2="417.00" stroke="#231f20" stroke-width="0.9" />
<line x1="346.46" y1="415.00" x2="346.46" y2="417.00" stroke="#231f20" stroke-width="0.9" />
<line x1="351.21" y1="415.00" x2="351.21" y2="417.00" stroke="#231f20" stroke-width="0.9" />
<line x1="355.96" y1="415.00" x2="355.96" y2="417.00" stroke="#231f20" stroke-width="0.9" />
<line x1="360.71" y1="415.00" x2="360.71" y2="417.00" stroke="#231f20" stroke-width="0.9" />
<line x1="365.46" y1="415.00" x2="365.46" y2="417.00" stroke="#231f20" stroke-width="0.9" />
<line x1="370.22" y1="415.00" x2="370.22" y2="417.00" stroke="#231f20" stroke-width="0.9" />
<line x1="374.97" y1="415.00" x2="374.97" y2="417.00" stroke="#231f20" stroke-width="0.9" />
<line x1="379.72" y1="415.00" x2="379.72" y2="417.00" stroke="#231f20" stroke-width="0.9" />
<line x1="384.47" y1="415.00" x2="384.47" y2="417.00" stroke="#231f20" stroke-width="0.9" />
<line x1="389.22" y1="415.00" x2="389.22" y2="417.00" stroke="#231f20" stroke-width="0.9" />
<line x1="393.98" y1="415.00" x2="393.98" y2="417.00" stroke="#231f20" stroke-width="0.9" />
<line x1="398.73" y1="415.00" x2="398.73" y2="417.00" stroke="#231f20" stroke-width="0.9" />
<line x1="403.48" y1="415.00" x2="403.48" y2="417.00" stroke="#231f20" stroke-width="0.9" />
<line x1="408.23" y1="415.00" x2="408.23" y2="417.00" stroke="#231f20" stroke-width="0.9" />
<line x1="412.98" y1="415.00" x2="412.98" y2="417.00" stroke="#231f20" stroke-width="0.9" />
<line x1="417.74" y1="415.00" x2="417.74" y2="417.00" stroke="#231f20" stroke-width="0.9" />
<line x1="422.49" y1="415.00" x2="422.49" y2="417.00" stroke="#231f20" stroke-width="0.9" />
<line x1="427.24" y1="415.00" x2="427.24" y2="417.00" stroke="#231f20" stroke-width="0.9" />
<line x1="431.99" y1="415.00" x2="431.99" y2="417.00" stroke="#231f20" stroke-width="0.9" />
<line x1="436.74" y1="415.00" x2="436.74" y2="417.00" stroke="#231f20" stroke-width="0.9" />
<line x1="441.50" y1="415.00" x2="441.50" y2="417.00" stroke="#231f20" stroke-width="0.9" />
<line x1="446.25" y1="415.00" x2="446.25" y2="417.00" stroke="#231f20" stroke-width="0.9" />
<line x1="451.00" y1="415.00" x2="451.00" y2="417.00" stroke="#231f20" stroke-width="0.9" />
<line x1="455.75" y1="415.00" x2="455.75" y2="417.00" stroke="#231f20" stroke-width="0.9" />
<line x1="460.50" y1="415.00" x2="460.50" y2="417.00" stroke="#231f20" stroke-width="0.9" />
<line x1="465.26" y1="415.00" x2="465.26" y2="417.00" stroke="#231f20" stroke-width="0.9" />
<line x1="470.01" y1="415.00" x2="470.01" y2="417.00" stroke="#231f20" stroke-width="0.9" />
<line x1="474.76" y1="415.00" x2="474.76" y2="417.00" stroke="#231f20" stroke-width="0.9" />
<line x1="479.51" y1="415.00" x2="479.51" y2="417.00" stroke="#231f20" stroke-width="0.9" />
<line x1="484.26" y1="415.00" x2="484.26" y2="417.00" stroke="#231f20" stroke-width="0.9" />
<line x1="489.02" y1="415.00" x2="489.02" y2="417.00" stroke="#231f20" stroke-width="0.9" />
<line x1="493.77" y1="415.00" x2="493.77" y2="417.00" stroke="#231f20" stroke-width="0.9" />
<line x1="498.52" y1="415.00" x2="498.52" y2="417.00" stroke="#231f20" stroke-width="0.9" />
<line x1="503.27" y1="415.00" x2="503.27" y2="417.00" stroke="#231f20" stroke-width="0.9" />
<line x1="508.02" y1="415.00" x2="508.02" y2="417.00" stroke="#231f20" stroke-width="0.9" />
<line x1="512.78" y1="415.00" x2="512.78" y2="417.00" stroke="#231f20" stroke-width="0.9" />
<line x1="517.53" y1="415.00" x2="517.53" y2="417.00" stroke="#231f20" stroke-width="0.9" />
<line x1="522.28" y1="415.00" x2="522.28" y2="417.00" stroke="#231f20" stroke-width="0.9" />
<line x1="527.03" y1="415.00" x2="527.03" y2="417.00" stroke="#231f20" stroke-width="0.9" />
<line x1="531.78" y1="415.00" x2="531.78" y2="417.00" stroke="#231f20" stroke-width="0.9" />
<line x1="536.54" y1="415.00" x2="536.54" y2="417.00" stroke="#231f20" stroke-width="0.9" />
<line x1="541.29" y1="415.00" x2="541.29" y2="417.00" stroke="#231f20" stroke-width="0.9" />
<line x1="546.04" y1="415.00" x2="546.04" y2="417.00" stroke="#231f20" stroke-width="0.9" />
<line x1="550.79" y1="415.00" x2="550.79" y2="417.00" stroke="#231f20" stroke-width="0.9" />
<line x1="555.54" y1="415.00" x2="555.54" y2="417.00" stroke="#231f20" stroke-width="0.9" />
<line x1="560.30" y1="415.00" x2="560.30" y2="417.00" stroke="#231f20" stroke-width="0.9" />
<line x1="565.05" y1="415.00" x2="565.05" y2="417.00" stroke="#231f20" stroke-width="0.9" />
<line x1="569.80" y1="415.00" x2="569.80" y2="417.00" stroke="#231f20" stroke-width="0.9" />
<line x1="574.55" y1="415.00" x2="574.55" y2="417.00" stroke="#231f20" stroke-width="0.9" />
<line x1="579.30" y1="415.00" x2="579.30" y2="417.00" stroke="#231f20" stroke-width="0.9" />
<line x1="584.06" y1="415.00" x2="584.06" y2="417.00" stroke="#231f20" stroke-width="0.9" />
<line x1="588.81" y1="415.00" x2="588.81" y2="417.00" stroke="#231f20" stroke-width="0.9" />
<line x1="593.56" y1="415.00" x2="593.56" y2="417.00" stroke="#231f20" stroke-width="0.9" />
<line x1="598.31" y1="415.00" x2="598.31" y2="417.00" stroke="#231f20" stroke-width="0.9" />
<line x1="603.06" y1="415.00" x2="603.06" y2="417.00" stroke="#231f20" stroke-width="0.9" />
<line x1="607.82" y1="415.00" x2="607.82" y2="417.00" stroke="#231f20" stroke-width="0.9" />
<line x1="612.57" y1="415.00" x2="612.57" y2="417.00" stroke="#231f20" stroke-width="0.9" />
<line x1="617.32" y1="415.00" x2="617.32" y2="417.00" stroke="#231f20" stroke-width="0.9" />
<line x1="622.07" y1="415.00" x2="622.07" y2="417.00" stroke="#231f20" stroke-width="0.9" />
<line x1="626.82" y1="415.00" x2="626.82" y2="417.00" stroke="#231f20" stroke-width="0.9" />
<line x1="631.58" y1="415.00" x2="631.58" y2="417.00" stroke="#231f20" stroke-width="0.9" />
<line x1="636.33" y1="415.00" x2="636.33" y2="417.00" stroke="#231f20" stroke-width="0.9" />
<line x1="641.08" y1="415.00" x2="641.08" y2="417.00" stroke="#231f20" stroke-width="0.9" />
<line x1="645.83" y1="415.00" x2="645.83" y2="417.00" stroke="#231f20" stroke-width="0.9" />
<line x1="650.58" y1="415.00" x2="650.58" y2="417.00" stroke="#231f20" stroke-width="0.9" />
<line x1="655.34" y1="415.00" x2="655.34" y2="417.00" stroke="#231f20" stroke-width="0.9" />
<line x1="660.09" y1="415.00" x2="660.09" y2="417.00" stroke="#231f20" stroke-width="0.9" />
<line x1="664.84" y1="415.00" x2="664.84" y2="417.00" stroke="#231f20" stroke-width="0.9" />
<line x1="208.30" y1="353.70" x2="210.30" y2="353.70" stroke="#231f20" stroke-width="0.9" />
<line x1="208.30" y1="414.40" x2="210.30" y2="414.40" stroke="#231f20" stroke-width="0.9" />
<text x="206.70" y="357.30" font-size="9.1" text-anchor="end" fill="#231f20" font-weight="normal" font-style="normal" >0.1</text>
<text x="206.70" y="418.00" font-size="9.1" text-anchor="end" fill="#231f20" font-weight="normal" font-style="normal" >0</text>
<text transform="translate(190.4,359.8) rotate(-90)" font-size="9.1" text-anchor="middle" fill="#231f20">Relative contribution</text>
<text transform="translate(684.2,363.5) rotate(-90)" font-size="9.1" text-anchor="middle" fill="#231f20">SBS-<tspan font-style="italic">pks</tspan></text>
<rect x="233.80" y="326.30" width="13.60" height="13.40" fill="#4b4b4d" stroke="#2a2a2a" stroke-width="0.9" />
<rect x="233.80" y="339.70" width="13.60" height="13.80" fill="#cfcfcf" stroke="#2a2a2a" stroke-width="0.9" />
<text x="251.80" y="335.20" font-size="9.1" text-anchor="start" fill="#231f20" font-weight="normal" font-style="normal" >Transcribed</text>
<text x="251.80" y="349.30" font-size="9.1" text-anchor="start" fill="#231f20" font-weight="normal" font-style="normal" >Untranscribed</text>
<rect x="431.00" y="412.80" width="2.00" height="1.40" fill="#6a3a3a" stroke="#3a2020" stroke-width="0.6" />
<rect x="436.00" y="412.80" width="2.00" height="1.40" fill="#6a3a3a" stroke="#3a2020" stroke-width="0.6" />
<rect x="225.05" y="411.10" width="2.00" height="3.10" fill="#2eaee4" stroke="#1b6d93" stroke-width="0.6" />
<rect x="243.75" y="411.90" width="1.90" height="2.30" fill="#2eaee4" stroke="#1b6d93" stroke-width="0.6" />
<rect x="248.35" y="411.10" width="2.00" height="3.10" fill="#2eaee4" stroke="#1b6d93" stroke-width="0.6" />
<rect x="252.95" y="412.30" width="2.00" height="1.90" fill="#2eaee4" stroke="#1b6d93" stroke-width="0.6" />
<rect x="267.55" y="412.00" width="1.70" height="2.20" fill="#2eaee4" stroke="#1b6d93" stroke-width="0.6" />
<rect x="269.55" y="410.30" width="1.90" height="3.90" fill="#ffffff" stroke="#333333" stroke-width="0.6" />
<rect x="241.75" y="413.20" width="1.50" height="1.00" fill="#ffffff" stroke="#333333" stroke-width="0.6" />
<rect x="255.35" y="413.30" width="1.70" height="0.90" fill="#2eaee4" stroke="#1b6d93" stroke-width="0.6" />
<rect x="257.35" y="413.30" width="1.70" height="0.90" fill="#2eaee4" stroke="#1b6d93" stroke-width="0.6" />
<rect x="274.35" y="413.30" width="1.70" height="0.90" fill="#ffffff" stroke="#333333" stroke-width="0.6" />
<rect x="283.35" y="413.30" width="1.70" height="0.90" fill="#2eaee4" stroke="#1b6d93" stroke-width="0.6" />
<rect x="303.45" y="410.30" width="2.30" height="3.90" fill="#ffffff" stroke="#333333" stroke-width="0.6" />
<rect x="306.15" y="412.00" width="1.70" height="2.20" fill="#231f20" stroke="#231f20" stroke-width="0.6" />
<rect x="320.35" y="412.50" width="1.50" height="1.70" fill="#231f20" stroke="#231f20" stroke-width="0.6" />
<rect x="341.15" y="411.10" width="2.20" height="3.10" fill="#ffffff" stroke="#333333" stroke-width="0.6" />
<rect x="350.75" y="413.00" width="1.70" height="1.20" fill="#231f20" stroke="#231f20" stroke-width="0.6" />
<rect x="357.05" y="411.10" width="2.00" height="3.10" fill="#231f20" stroke="#231f20" stroke-width="0.6" />
<rect x="293.15" y="413.30" width="1.70" height="0.90" fill="#ffffff" stroke="#333333" stroke-width="0.6" />
<rect x="297.65" y="413.30" width="1.70" height="0.90" fill="#231f20" stroke="#231f20" stroke-width="0.6" />
<rect x="312.15" y="413.30" width="1.70" height="0.90" fill="#231f20" stroke="#231f20" stroke-width="0.6" />
<rect x="330.15" y="413.30" width="1.70" height="0.90" fill="#231f20" stroke="#231f20" stroke-width="0.6" />
<rect x="335.15" y="413.30" width="1.70" height="0.90" fill="#231f20" stroke="#231f20" stroke-width="0.6" />
<rect x="363.25" y="410.50" width="2.10" height="3.70" fill="#e21e26" stroke="#7a1010" stroke-width="0.6" />
<rect x="365.65" y="410.50" width="2.10" height="3.70" fill="#f9d3ce" stroke="#a88080" stroke-width="0.6" />
<rect x="372.55" y="411.10" width="2.30" height="3.10" fill="#e21e26" stroke="#7a1010" stroke-width="0.6" />
<rect x="375.15" y="412.30" width="2.20" height="1.90" fill="#f9d3ce" stroke="#a88080" stroke-width="0.6" />
<rect x="398.75" y="411.80" width="2.10" height="2.40" fill="#f9d3ce" stroke="#a88080" stroke-width="0.6" />
<rect x="405.85" y="412.00" width="1.80" height="2.20" fill="#e21e26" stroke="#7a1010" stroke-width="0.6" />
<rect x="408.05" y="411.30" width="2.30" height="2.90" fill="#f9d3ce" stroke="#a88080" stroke-width="0.6" />
<rect x="410.65" y="412.00" width="1.80" height="2.20" fill="#e21e26" stroke="#7a1010" stroke-width="0.6" />
<rect x="412.95" y="411.50" width="2.00" height="2.70" fill="#f9d3ce" stroke="#a88080" stroke-width="0.6" />
<rect x="415.55" y="412.50" width="1.80" height="1.70" fill="#e21e26" stroke="#7a1010" stroke-width="0.6" />
<rect x="424.25" y="409.90" width="2.40" height="4.30" fill="#e21e26" stroke="#7a1010" stroke-width="0.6" />
<rect x="439.35" y="401.10" width="2.20" height="13.10" fill="#d6d6d6" stroke="#333333" stroke-width="0.6" />
<rect x="441.85" y="406.40" width="2.10" height="7.80" fill="#eeeeee" stroke="#9a9a9a" stroke-width="0.6" />
<rect x="444.25" y="404.10" width="2.30" height="10.10" fill="#d6d6d6" stroke="#333333" stroke-width="0.6" />
<rect x="446.85" y="411.00" width="2.10" height="3.20" fill="#d6d6d6" stroke="#333333" stroke-width="0.6" />
<rect x="449.25" y="412.20" width="2.10" height="2.00" fill="#eeeeee" stroke="#9a9a9a" stroke-width="0.6" />
<rect x="453.35" y="402.90" width="2.30" height="11.30" fill="#d6d6d6" stroke="#333333" stroke-width="0.6" />
<rect x="455.95" y="407.20" width="2.50" height="7.00" fill="#eeeeee" stroke="#9a9a9a" stroke-width="0.6" />
<rect x="462.15" y="411.20" width="2.50" height="3.00" fill="#d6d6d6" stroke="#333333" stroke-width="0.6" />
<rect x="464.95" y="412.20" width="2.70" height="2.00" fill="#eeeeee" stroke="#9a9a9a" stroke-width="0.6" />
<rect x="472.05" y="413.00" width="2.20" height="1.20" fill="#d6d6d6" stroke="#333333" stroke-width="0.6" />
<rect x="477.25" y="413.00" width="2.00" height="1.20" fill="#d6d6d6" stroke="#333333" stroke-width="0.6" />
<rect x="481.35" y="411.00" width="2.30" height="3.20" fill="#d6d6d6" stroke="#333333" stroke-width="0.6" />
<rect x="488.45" y="411.60" width="2.20" height="2.60" fill="#eeeeee" stroke="#9a9a9a" stroke-width="0.6" />
<rect x="490.95" y="404.20" width="2.30" height="10.00" fill="#d6d6d6" stroke="#333333" stroke-width="0.6" />
<rect x="495.35" y="406.90" width="2.60" height="7.30" fill="#eeeeee" stroke="#9a9a9a" stroke-width="0.6" />
<rect x="498.25" y="404.20" width="2.20" height="10.00" fill="#d6d6d6" stroke="#333333" stroke-width="0.6" />
<rect x="502.95" y="413.00" width="1.90" height="1.20" fill="#d6d6d6" stroke="#333333" stroke-width="0.6" />
<rect x="509.45" y="380.20" width="3.00" height="34.00" fill="#d6d6d6" stroke="#333333" stroke-width="0.6" />
<rect x="512.75" y="409.30" width="2.10" height="4.90" fill="#eeeeee" stroke="#9a9a9a" stroke-width="0.6" />
<rect x="515.45" y="379.60" width="2.30" height="34.60" fill="#8dc63f" stroke="#3e5a1a" stroke-width="0.6" />
<rect x="518.05" y="394.20" width="2.20" height="20.00" fill="#f3f8ea" stroke="#444444" stroke-width="0.6" />
<rect x="520.55" y="397.10" width="2.20" height="17.10" fill="#8dc63f" stroke="#3e5a1a" stroke-width="0.6" />
<rect x="523.05" y="407.10" width="2.40" height="7.10" fill="#f3f8ea" stroke="#444444" stroke-width="0.6" />
<rect x="527.25" y="412.30" width="1.90" height="1.90" fill="#f3f8ea" stroke="#444444" stroke-width="0.6" />
<rect x="529.95" y="336.30" width="2.40" height="77.90" fill="#8dc63f" stroke="#3e5a1a" stroke-width="0.6" />
<rect x="532.65" y="391.90" width="2.20" height="22.30" fill="#f3f8ea" stroke="#444444" stroke-width="0.6" />
<rect x="535.15" y="411.30" width="1.70" height="2.90" fill="#8dc63f" stroke="#3e5a1a" stroke-width="0.6" />
<rect x="539.35" y="412.50" width="1.70" height="1.70" fill="#8dc63f" stroke="#3e5a1a" stroke-width="0.6" />
<rect x="541.45" y="412.30" width="2.10" height="1.90" fill="#f3f8ea" stroke="#444444" stroke-width="0.6" />
<rect x="543.95" y="413.00" width="1.90" height="1.20" fill="#8dc63f" stroke="#3e5a1a" stroke-width="0.6" />
<rect x="557.75" y="412.30" width="2.40" height="1.90" fill="#8dc63f" stroke="#3e5a1a" stroke-width="0.6" />
<rect x="567.45" y="404.60" width="2.40" height="9.60" fill="#8dc63f" stroke="#3e5a1a" stroke-width="0.6" />
<rect x="570.15" y="411.30" width="2.20" height="2.90" fill="#f3f8ea" stroke="#444444" stroke-width="0.6" />
<rect x="574.75" y="412.00" width="2.10" height="2.20" fill="#f3f8ea" stroke="#444444" stroke-width="0.6" />
<rect x="576.95" y="411.50" width="2.10" height="2.70" fill="#8dc63f" stroke="#3e5a1a" stroke-width="0.6" />
<rect x="586.15" y="368.50" width="2.40" height="45.70" fill="#8dc63f" stroke="#3e5a1a" stroke-width="0.6" />
<rect x="588.85" y="405.00" width="2.10" height="9.20" fill="#f3f8ea" stroke="#444444" stroke-width="0.6" />
<rect x="591.35" y="409.30" width="2.70" height="4.90" fill="#efc0c0" stroke="#6a4a4a" stroke-width="0.6" />
<rect x="595.85" y="413.00" width="2.40" height="1.20" fill="#efc0c0" stroke="#6a4a4a" stroke-width="0.6" />
<rect x="600.65" y="413.00" width="2.60" height="1.20" fill="#efc0c0" stroke="#6a4a4a" stroke-width="0.6" />
<rect x="617.45" y="411.10" width="2.90" height="3.10" fill="#ffffff" stroke="#999999" stroke-width="0.6" />
<rect x="636.05" y="413.00" width="2.20" height="1.20" fill="#efc0c0" stroke="#6a4a4a" stroke-width="0.6" />
<rect x="643.55" y="409.00" width="1.90" height="5.20" fill="#efc0c0" stroke="#6a4a4a" stroke-width="0.6" />
<rect x="648.25" y="402.80" width="2.40" height="11.40" fill="#efc0c0" stroke="#6a4a4a" stroke-width="0.6" />
<rect x="650.95" y="411.40" width="1.90" height="2.80" fill="#ffffff" stroke="#999999" stroke-width="0.6" />
<rect x="653.15" y="407.20" width="2.50" height="7.00" fill="#efc0c0" stroke="#6a4a4a" stroke-width="0.6" />
<rect x="657.45" y="411.40" width="2.40" height="2.80" fill="#efc0c0" stroke="#6a4a4a" stroke-width="0.6" />
<rect x="662.45" y="374.20" width="2.10" height="40.00" fill="#efc0c0" stroke="#6a4a4a" stroke-width="0.6" />
<rect x="664.85" y="398.20" width="2.40" height="16.00" fill="#ffffff" stroke="#999999" stroke-width="0.6" />
<text transform="translate(447.2,421.4) rotate(-45)" font-size="9.4" text-anchor="end" fill="#3a3a3a">A.A</text>
<text transform="translate(462.4,421.4) rotate(-45)" font-size="9.4" text-anchor="end" fill="#3a3a3a">A.T</text>
<text transform="translate(518.2,421.6) rotate(-45)" font-size="9.4" text-anchor="end" fill="#3a3a3a">T.T</text>
<text transform="translate(524.5,421.2) rotate(-45)" font-size="9.4" text-anchor="end" fill="#79b543">A.A</text>
<text transform="translate(538.4,421.4) rotate(-45)" font-size="9.4" text-anchor="end" fill="#79b543">A.T</text>
<text transform="translate(594.0,421.8) rotate(-45)" font-size="9.4" text-anchor="end" fill="#79b543">T.T</text>
<text transform="translate(670.3,421.8) rotate(-45)" font-size="9.4" text-anchor="end" fill="#d4a2a2">T.T</text>
</svg>
</body></html>
